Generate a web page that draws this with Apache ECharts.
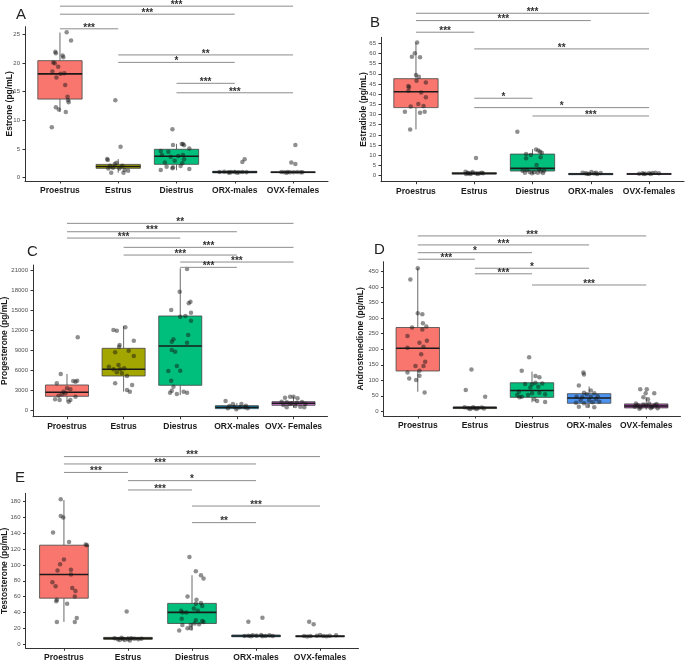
<!DOCTYPE html>
<html>
<head>
<meta charset="utf-8">
<title>Hormones by group</title>
<script src="https://cdn.jsdelivr.net/npm/echarts@6/dist/echarts.min.js"></script>
<style>
html,body{margin:0;padding:0;background:#fff;}
#main{width:685px;height:660px;}
</style>
</head>
<body>
<div id="main"></div>
<script>
// groups
var groups = ['Proestrus','Estrus','Diestrus','ORX-males','OVX-females'];
var groupsC = ['Proestrus','Estrus','Diestrus','ORX-males','OVX- Females'];

// y tick labels
var ticksA = [0,5,10,15,20,25];
var ticksB = [0,5,10,15,20,25,30,35,40,45,50,55,60,65];
var ticksC = [0,3000,6000,9000,12000,15000,18000,21000];
var ticksD = [0,50,100,150,200,250,300,350,400,450];
var ticksE = [0,20,40,60,80,100,120,140,160,180];

// boxes: [lower whisker, Q1, median, Q3, upper whisker]
var boxA = [[11.45,13.7,18.1,20.4,25.3],[0.85,1.63,1.95,2.32,3.25],[1.3,2.33,3.75,4.95,5.9],[0.8,0.85,0.97,1.12,1.35],[0.8,0.88,0.95,1.03,1.2]];
var boxB = [[22.7,33.4,41.2,47.6,65.3],[0.5,0.8,1.1,1.5,2.0],[1.0,2.3,3.6,10.6,13.0],[0.4,0.5,0.8,1.1,1.8],[0.5,0.6,0.8,1.1,1.5]];
var boxC = [[1300,2095,2694,3791,5437],[2793,5138,6135,9278,12620],[2300,3741,9627,14116,21249],[100,249,449,698,1100],[400,748,1047,1297,2045]];
var boxD = [[63,130,203,270,461],[7,9,12,14,17],[29,45,67,92,128],[12,26,43,57,80],[5,11,17,24,45]];
var boxE = [[28,58,88,125,182],[4.5,6,7.2,8.4,10],[17,26,40,51.4,87],[8.5,9.2,10.1,11.4,13],[8.5,9,9.8,10.6,11.5]];

// jittered points per group: [offset from group, value]
var ptsA = [
	[[0.115,25.35],[0.19,23.9],[-0.08,21.97],[-0.07,21.7],[0.045,21.3],[0.057,21.0],[-0.115,20.1],[-0.09,19.95],[-0.03,19.35],[-0.13,18.5],[0.01,18.1],[0.075,18.2],[-0.06,17.45],[0.09,16.15],[0.13,14.1],[0.14,13.5],[0.15,13.15],[-0.07,12.3],[-0.02,11.9],[0.10,11.45],[-0.14,8.8]],
	[[-0.05,13.5],[0.04,5.4],[-0.19,3.25],[-0.18,3.1],[-0.06,2.4],[-0.03,2.6],[-0.14,2.1],[0.07,2.1],[-0.09,1.75],[0.02,1.6],[0.11,1.35],[-0.12,0.87],[0.09,0.87],[0.17,1.2],[-0.17,1.6]],
	[[-0.07,8.43],[-0.06,5.7],[0.09,5.87],[0.11,5.87],[0.13,5.64],[0.22,5.1],[-0.27,4.65],[-0.14,4.53],[-0.25,3.95],[0.03,3.78],[0.11,3.95],[-0.1,3.66],[0.13,3.2],[-0.03,2.96],[-0.2,2.67],[0.1,2.5],[-0.17,1.92],[-0.06,1.8],[0.07,2.03],[-0.27,1.34],[0.22,1.5],[-0.07,1.63]],
	[[0.17,3.2],[0.13,2.75],[-0.26,0.98],[-0.18,1.02],[-0.11,0.95],[-0.06,0.98],[0,0.98],[0.07,0.95],[0.13,0.98],[0.2,0.95],[-0.09,0.88],[0.04,0.88]],
	[[0.04,5.7],[-0.03,2.67],[0.04,2.38],[-0.2,0.98],[-0.15,0.95],[-0.09,0.98],[-0.05,0.95],[0.01,0.95],[0.07,0.98],[0.13,0.95],[0.16,0.95],[-0.11,0.88]]
];
var ptsB = [
	[[0.02,65.3],[-0.02,60.1],[-0.07,58.4],[0.07,58.1],[0,49.4],[0.05,48.6],[0.01,46.6],[0.17,45.7],[-0.13,44.0],[-0.12,43.4],[-0.13,41.7],[0.09,40.8],[0.17,38.5],[0.04,35.2],[-0.09,33.9],[0.13,34.2],[-0.19,31.4],[0.07,30.9],[0.15,31.4],[-0.1,22.7]],
	[[0.03,8.7],[-0.15,1.96],[-0.1,1.15],[-0.04,1.15],[0.03,1.15],[0.09,1.15],[0.15,1.15],[-0.11,1.47],[-0.03,1.8],[0.06,0.8],[0.13,1.47],[-0.07,0.8],[-0.14,0.8]],
	[[-0.26,21.6],[0.06,12.9],[0.1,12.3],[0.13,11.8],[0.16,11.3],[-0.11,10.6],[-0.03,10.1],[0.14,9.0],[-0.11,8.5],[0.07,5.2],[0.11,3.1],[-0.17,2.45],[-0.1,2.8],[-0.05,1.8],[0.03,1.64],[0.09,1.47],[0.14,2.1],[0.2,2.45],[-0.13,1.47],[-0.01,1.15],[0.18,1.3]],
	[[-0.14,1.47],[-0.09,1.15],[-0.03,0.8],[0.01,1.8],[0.06,1.15],[0.11,0.8],[0.17,1.3],[-0.06,1.0],[0.09,1.47]],
	[[-0.17,1.0],[-0.11,1.15],[-0.06,1.0],[0,1.15],[0.06,1.3],[0.11,1.47],[0.17,1.15],[-0.09,0.8],[0.03,0.8]]
];
var ptsC = [
	[[0.19,10924],[-0.11,5437],[-0.18,4040],[0.11,4389],[0.15,4290],[0.18,4440],[0,3292],[0.06,3142],[-0.06,2793],[-0.03,2544],[-0.09,2394],[-0.15,2195],[0.15,2045],[-0.13,1546],[0.06,1546],[0.03,1297],[-0.21,1646]],
	[[-0.18,12021],[-0.12,11921],[0.03,12420],[0.18,10425],[-0.07,9776],[-0.08,9527],[-0.15,8679],[0.09,8929],[0.18,8130],[-0.09,6784],[-0.26,6534],[-0.18,6135],[-0.06,6135],[0.01,6285],[-0.12,5686],[-0.03,5537],[0.06,5138],[-0.15,4040],[0.15,3791],[0.06,3043],[0.11,2793]],
	[[0.12,21149],[-0.01,17757],[0.18,16261],[0.15,16011],[-0.16,15014],[0,14016],[0.09,14116],[0.19,14615],[0.19,13418],[-0.12,10625],[-0.15,10275],[0.14,11273],[0.12,10126],[-0.15,9029],[-0.09,8779],[-0.06,6634],[-0.21,5886],[0,5936],[-0.16,4439],[-0.12,3541],[-0.15,2943],[-0.18,2644],[-0.06,2444],[0.06,2793],[0.12,2644]],
	[[-0.2,1397],[-0.07,948],[-0.13,648],[-0.04,549],[0.05,449],[0.14,449],[0.08,948],[0.19,299],[-0.01,150],[-0.16,299],[0.16,698]],
	[[-0.15,1895],[-0.06,2045],[0,2045],[0.07,1796],[-0.21,1297],[-0.12,1197],[-0.03,1047],[0.06,1147],[0.15,1247],[0.21,948],[-0.18,798],[-0.07,948],[0.03,648],[0.12,549],[0.19,449],[-0.12,449]]
];
var ptsD = [
	[[0,461],[-0.13,425],[0,316],[0.08,313],[0.09,284],[0.15,273],[-0.1,270],[0.08,264],[-0.18,243],[0.16,227],[0.03,221],[0.1,208],[-0.18,205],[0.06,184],[0.13,160],[0.1,146],[-0.04,146],[0.03,131],[-0.18,125],[0.03,115],[-0.15,106],[-0.03,101],[0.12,61]],
	[[-0.06,135],[-0.16,69],[0.18,47],[-0.18,13],[-0.12,11],[-0.06,10],[0,10],[0.06,11],[0.12,12],[0.16,9],[-0.09,7.5],[0.03,7.5],[-0.03,13]],
	[[0.06,114],[0.13,110],[-0.18,131],[-0.05,174],[-0.12,88],[0,87],[0.06,92],[0.18,90],[-0.23,63],[-0.18,47],[-0.07,53],[0,58],[0.13,60],[0.23,55],[-0.22,45],[0.04,39],[0.09,33],[0.23,30],[-0.03,77],[0.11,79],[-0.26,53]],
	[[-0.1,125],[-0.09,119],[-0.18,83],[0.03,67],[-0.09,60],[0.09,58],[-0.04,55],[-0.22,47],[-0.12,45],[0.03,47],[0.15,49],[-0.15,36],[0,36],[0.12,39],[-0.23,28],[-0.09,26],[0.06,29],[0.18,31],[-0.18,15],[-0.03,17],[0.09,13]],
	[[-0.105,70.9],[0.01,70.9],[-0.01,58],[0.14,58],[-0.05,45],[0.03,38.7],[-0.2,15],[-0.15,20],[-0.1,12],[-0.05,22],[0,18],[0.05,25],[0.1,14],[0.15,20],[0.2,10],[-0.12,8],[0.08,10],[0.18,24],[-0.18,25]]
];
var ptsE = [
	[[-0.05,183],[-0.05,162],[-0.01,160],[-0.17,141],[0.08,129],[0.34,126],[0.36,125],[0,107],[-0.06,101],[-0.1,93],[0.11,94],[0.11,88],[-0.18,78],[-0.13,73],[0.13,71],[0.18,67],[0.17,60],[-0.11,56],[-0.12,54],[0.05,51],[0.2,33],[0.17,28],[-0.11,28]],
	[[-0.02,41],[-0.21,7.2],[-0.16,5.9],[-0.1,8.0],[-0.05,5.1],[0,5.9],[0.05,7.2],[0.1,6.7],[0.16,5.9],[0.21,6.7],[-0.13,5.1],[0.03,4.6],[-0.08,6.3]],
	[[-0.04,110],[0.06,92],[0.14,87],[0.18,83],[-0.07,60],[0.07,56],[0.14,52],[0.06,51],[0.16,48],[-0.17,42],[-0.15,40],[-0.09,40],[0.03,45],[0.09,42],[-0.16,32],[0.06,30],[0.16,29],[0.18,28],[-0.15,24],[-0.02,24],[0.04,26],[0.11,25],[-0.07,20],[-0.02,20],[-0.2,17]],
	[[-0.12,28.2],[0.1,33.3],[-0.18,10.1],[-0.12,10.5],[-0.05,11],[0.01,10.5],[0.08,11.4],[0.15,10.1],[0.21,11],[0.26,10.1],[-0.08,9.7],[0.1,9.7]],
	[[-0.17,28.2],[-0.1,24.9],[-0.25,10],[-0.15,10],[-0.05,10.5],[0.05,10],[0.15,10.5],[0.25,11],[-0.2,9.5],[0.1,9.8],[0,11.5]]
];

// significance bars: [from group, to group, height, stars]
var sigA = [[0,4,29.9,'***'],[0,3,28.5,'***'],[0,1,25.95,'***'],[1,4,21.4,'**'],[1,3,20.1,'*'],[2,3,16.45,'***'],[2,4,14.8,'***']];
var sigB = [[0,4,79.7,'***'],[0,3,76.1,'***'],[0,1,70.4,'***'],[1,4,62.2,'**'],[1,2,38.0,'*'],[1,4,33.4,'*'],[2,4,29.3,'***']];
var sigC = [[0,4,27982,'**'],[0,3,26725,'***'],[0,2,25780,'***'],[1,4,24391,'***'],[1,3,23239,'***'],[2,4,22191,'***'],[2,3,21398,'***']];
var sigD = [[0,4,565,'***'],[0,3,536,'***'],[0,2,511,'*'],[0,1,490,'***'],[1,3,461,'*'],[1,2,443,'***'],[2,4,407,'***']];
var sigE = [[0,4,237,'***'],[0,3,227.7,'***'],[0,1,217,'***'],[1,3,206.6,'*'],[1,2,194.8,'***'],[2,4,174.5,'***'],[2,3,153.5,'**']];

var FONT = 'Liberation Sans, Arial, sans-serif';

// layout of each panel
var panels = [
	{letter:'A', name:'Estrone (pg/mL)', cats:groups, ticks:ticksA, box:boxA, pts:ptsA, sig:sigA,
	 grid:{left:25, top:26.7, width:303, height:154.3}, ymin:-0.575, ymax:26.32, gap:11, title:{left:16, top:7},
	 colors:['#f8766d','#a3a500','#00bf7d','#00b0f6','#e76bf3']},
	{letter:'B', name:'Estradiole (pg/mL)', cats:groups, ticks:ticksB, box:boxB, pts:ptsB, sig:sigB,
	 grid:{left:381, top:37.3, width:303, height:144.4}, ymin:-2.95, ymax:67.9, gap:12.5, title:{left:370, top:15},
	 colors:['#f8766d','#a3a500','#00bf7d','#00b0f6','#e76bf3']},
	{letter:'C', name:'Progesterone (pg/mL)', cats:groupsC, ticks:ticksC, box:boxC, pts:ptsC, sig:sigC,
	 grid:{left:33, top:265, width:294.5, height:151.7}, ymin:-958, ymax:21748, gap:23.5, title:{left:27, top:244},
	 colors:['#f8766d','#a3a500','#00bf7d','#00b0f6','#cc6fcc']},
	{letter:'D', name:'Androstenedione (pg/mL)', cats:groups, ticks:ticksD, box:boxD, pts:ptsD, sig:sigD,
	 grid:{left:383.5, top:261.7, width:297, height:154.3}, ymin:-15, ymax:482, gap:18.3, title:{left:374, top:242},
	 colors:['#f8766d','#a3a500','#00bf7d','#4d94f0','#a04da0']},
	{letter:'E', name:'Testosterone (pg/mL)', cats:groups, ticks:ticksE, box:boxE, pts:ptsE, sig:sigE,
	 grid:{left:25.5, top:493.3, width:333, height:155}, ymin:-5.4, ymax:190.6, gap:16.5, title:{left:15, top:470},
	 colors:['#f8766d','#a3a500','#00bf7d','#00b0f6','#e76bf3']}
];

function renderBox(colors) {
	return function (params, api) {
		var x = api.value(0);
		var lo = api.coord([x, api.value(1)]);
		var q1 = api.coord([x, api.value(2)]);
		var md = api.coord([x, api.value(3)]);
		var q3 = api.coord([x, api.value(4)]);
		var hi = api.coord([x, api.value(5)]);
		var w = api.size([0.76, 0])[0];
		var cx = lo[0];
		return {
			type: 'group',
			children: [
				{type:'line', shape:{x1:cx, y1:hi[1], x2:cx, y2:q3[1]}, style:{stroke:'#444', lineWidth:0.8}},
				{type:'line', shape:{x1:cx, y1:q1[1], x2:cx, y2:lo[1]}, style:{stroke:'#444', lineWidth:0.8}},
				{type:'rect', shape:{x:cx - w / 2, y:q3[1], width:w, height:q1[1] - q3[1]},
				 style:{fill:colors[params.dataIndex], stroke:'#444', lineWidth:0.8}},
				{type:'line', shape:{x1:cx - w / 2, y1:md[1], x2:cx + w / 2, y2:md[1]}, style:{stroke:'#1a1a1a', lineWidth:1.6}}
			]
		};
	};
}

function renderSig(sig) {
	return function (params, api) {
		var a = api.coord([api.value(0), api.value(2)]);
		var b = api.coord([api.value(1), api.value(2)]);
		return {
			type: 'group',
			children: [
				{type:'line', shape:{x1:a[0], y1:a[1], x2:b[0], y2:b[1]}, style:{stroke:'#8c8c8c', lineWidth:1}},
				{type:'text', x:(a[0] + b[0]) / 2, y:a[1] - 1,
				 style:{text:sig[params.dataIndex][3], align:'center', verticalAlign:'middle',
				        fill:'#333', fontSize:10, fontWeight:'bold', fontFamily:FONT}}
			]
		};
	};
}

var option = {
	backgroundColor: '#fff',
	animation: false,
	textStyle: {fontFamily: FONT},
	title: [], grid: [], xAxis: [], yAxis: [], series: []
};

for (var i = 0; i < panels.length; i++) {
	var p = panels[i];
	option.title.push({
		text: p.letter, left: p.title.left, top: p.title.top, padding: 0,
		textStyle: {fontSize: 15, fontWeight: 'normal', color: '#222', fontFamily: FONT}
	});
	var g = p.grid;
	option.grid.push({left: g.left, top: g.top, width: g.width, height: g.height, outerBoundsMode: 'none'});
	option.xAxis.push({
		type: 'value', gridIndex: i, min: -0.6, max: 4.6,
		axisLine: {show: true, onZero: false, lineStyle: {color: '#333', width: 1}},
		axisTick: {show: true, length: 2.5, customValues: [0,1,2,3,4], lineStyle: {color: '#333'}},
		axisLabel: {customValues: [0,1,2,3,4], margin: 5, fontSize: 8.5, fontWeight: 'bold', color: '#1a1a1a',
			formatter: (function (cats) { return function (v) { return cats[Math.round(v)]; }; })(p.cats)},
		splitLine: {show: false}
	});
	option.yAxis.push({
		type: 'value', gridIndex: i, min: p.ymin, max: p.ymax,
		name: p.name, nameLocation: 'middle', nameGap: p.gap, nameMoveOverlap: false,
		nameTextStyle: {fontSize: 8.5, fontWeight: 'bold', color: '#1a1a1a'},
		axisLine: {show: true, onZero: false, lineStyle: {color: '#333', width: 1}},
		axisTick: {show: true, length: 2.5, customValues: p.ticks, lineStyle: {color: '#333'}},
		axisLabel: {customValues: p.ticks, margin: 5, fontSize: 6, color: '#4d4d4d',
			formatter: function (v) { return String(Math.round(v)); }},
		splitLine: {show: false}
	});
	option.series.push({
		type: 'custom', xAxisIndex: i, yAxisIndex: i, clip: false,
		renderItem: renderBox(p.colors),
		encode: {x: 0, y: [1,2,3,4,5]},
		data: p.box.map(function (b, k) { return [k].concat(b); }),
		z: 2
	});
	var pts = [];
	p.pts.forEach(function (list, k) {
		list.forEach(function (d) { pts.push([k + d[0], d[1]]); });
	});
	option.series.push({
		type: 'scatter', xAxisIndex: i, yAxisIndex: i,
		symbolSize: 4.5, data: pts,
		itemStyle: {color: 'rgba(20,20,20,0.6)'},
		z: 3
	});
	option.series.push({
		type: 'custom', xAxisIndex: i, yAxisIndex: i, clip: false,
		renderItem: renderSig(p.sig),
		encode: {x: [0,1], y: 2},
		data: p.sig.map(function (s) { return [s[0], s[1], s[2]]; }),
		z: 4
	});
}

var myChart = echarts.init(document.getElementById('main'), null, {renderer: 'canvas'});
myChart.setOption(option);
</script>
</body>
</html>
